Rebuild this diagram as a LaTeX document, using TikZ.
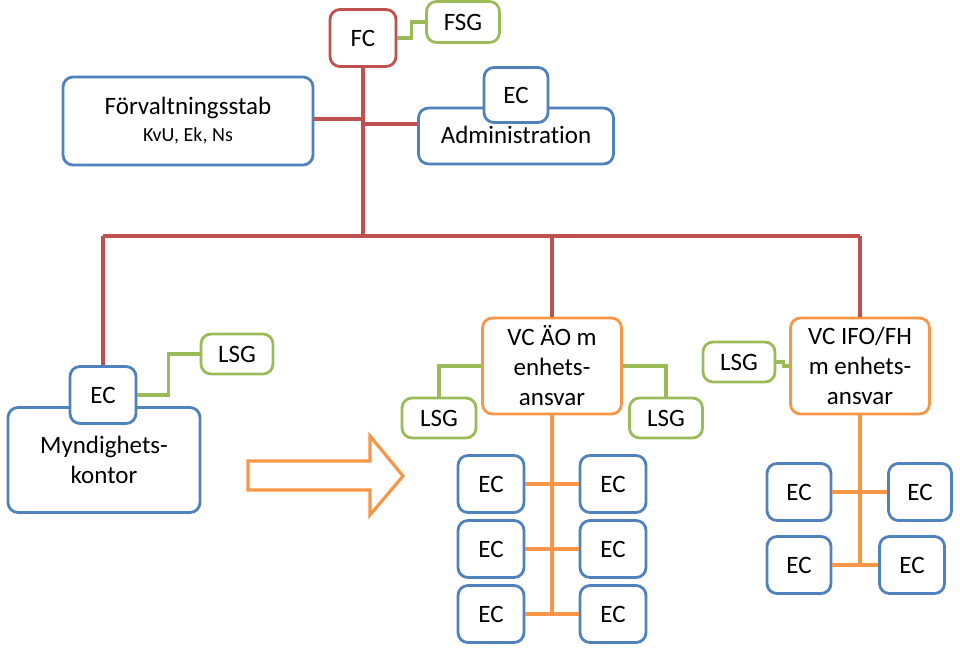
\documentclass[tikz,border=0pt]{standalone}
\usepackage{fontspec}
\setmainfont{Carlito}[Ligatures=NoCommon]
\usepackage{tikz}
\definecolor{fcred}{HTML}{C0504D}
\definecolor{ecblue}{HTML}{4F81BD}
\definecolor{sggreen}{HTML}{9BBB59}
\definecolor{vcorange}{HTML}{F79646}
\tikzset{
	box/.style={draw, line width=2.8pt, rounded corners=10pt, fill=white, inner sep=0pt, align=center, font=\fontsize{25}{30}\selectfont},
	fcbox/.style={box, draw=fcred},
	ecbox/.style={box, draw=ecblue, minimum width=65pt, minimum height=57pt},
	sgbox/.style={box, draw=sggreen, minimum width=72pt, minimum height=40pt},
	vcbox/.style={box, draw=vcorange, minimum width=139pt, minimum height=96pt},
	redline/.style={draw=fcred, line width=3.2pt},
	greenline/.style={draw=sggreen, line width=3.2pt},
	orangeline/.style={draw=vcorange, line width=3.2pt}
}

\begin{document}
\begin{tikzpicture}[x=1pt, y=-1pt]
		\useasboundingbox (0,0) rectangle (960,648);
		% top level
		\node[fcbox, minimum width=66pt, minimum height=57pt] (fc) at (363,38) {FC};
		\node[sgbox, minimum width=73pt, minimum height=41pt] (fsg) at (463,22) {FSG};
		\node[box, draw=ecblue, minimum width=250pt, minimum height=88pt] (stab) at (188,121) {F\"orvaltningsstab\\[-3pt]{\fontsize{20}{22}\selectfont KvU, Ek, Ns}};
		\node[box, draw=ecblue, minimum width=195pt, minimum height=56pt, text depth=2pt] (admin) at (516,136) {Administration};
		\node[ecbox, minimum width=64pt, minimum height=55pt] (adminec) at (516,95) {EC};
		\coordinate (bus) at (363,236);
		\draw[greenline] (fc.east) -- ++(14,0) |- (fsg.west);
		\draw[redline] (fc.south) -- (bus);
		\draw[redline] ([yshift=2pt]stab.east) -- ([yshift=2pt]stab.east -| fc.south);
		\draw[redline] ([yshift=12pt]admin.west) -- ([yshift=12pt]admin.west -| fc.south);
		% myndighetskontor
		\node[box, draw=ecblue, minimum width=192pt, minimum height=105pt] (myn) at (104,460) {Myndighets-\\kontor};
		\node[ecbox, minimum width=66pt] (mynec) at (103,395) {EC};
		\node[sgbox] (mynlsg) at (237,354) {LSG};
		\draw[greenline] (mynec.east) -- ++(31,0) |- (mynlsg.west);
		% arrow
		\draw[orangeline, line join=miter] (248,461) -- (370,461) -- (370,436) -- (403,476) -- (370,515) -- (370,490) -- (248,490) -- cycle;
		% VC AeO
		\node[vcbox] (aeo) at (552,366) {VC \"AO m\\enhets-\\ansvar};
		\node[sgbox, minimum width=74pt] (aeolsgl) at (439,418) {LSG};
		\node[sgbox, minimum width=73pt] (aeolsgr) at (666,418) {LSG};
		\draw[greenline] (aeo.west) -| (aeolsgl.north);
		\draw[greenline] (aeo.east) -| (aeolsgr.north);
		\foreach \row/\y in {1/484, 2/549, 3/614} {
			\node[ecbox, minimum width=66pt] (aecl\row) at (491,\y) {EC};
			\node[ecbox, minimum width=66pt] (aecr\row) at (613,\y) {EC};
			\draw[orangeline] (aecl\row) -- (aecr\row);
		}
		\draw[orangeline] (aeo.south) -- (aeo.south |- aecl3);
		% VC IFO/FH
		\node[vcbox] (ifo) at (860,366) {VC IFO/FH\\m enhets-\\ansvar};
		\node[sgbox] (ifolsg) at (739,362) {LSG};
		\draw[greenline] (ifolsg.east) -- ++(7,0) |- (ifo.west);
		\node[ecbox, minimum width=64pt] (ifol1) at (799,492) {EC};
		\node[ecbox, minimum width=63pt] (ifor1) at (920,492) {EC};
		\node[ecbox, minimum width=64pt] (ifol2) at (799,565) {EC};
		\node[ecbox, minimum width=65pt] (ifor2) at (912,565) {EC};
		\draw[orangeline] (ifol1) -- (ifor1);
		\draw[orangeline] (ifol2) -- (ifor2);
		\draw[orangeline] (ifo.south) -- (ifo.south |- ifol2);
		% red bus
		\draw[redline] (mynec.north |- bus) -- (ifo.north |- bus);
		\draw[redline] (mynec.north |- bus) -- (mynec.north);
		\draw[redline] (aeo.north |- bus) -- (aeo.north);
		\draw[redline] (ifo.north |- bus) -- (ifo.north);
	\end{tikzpicture}
\end{document}
